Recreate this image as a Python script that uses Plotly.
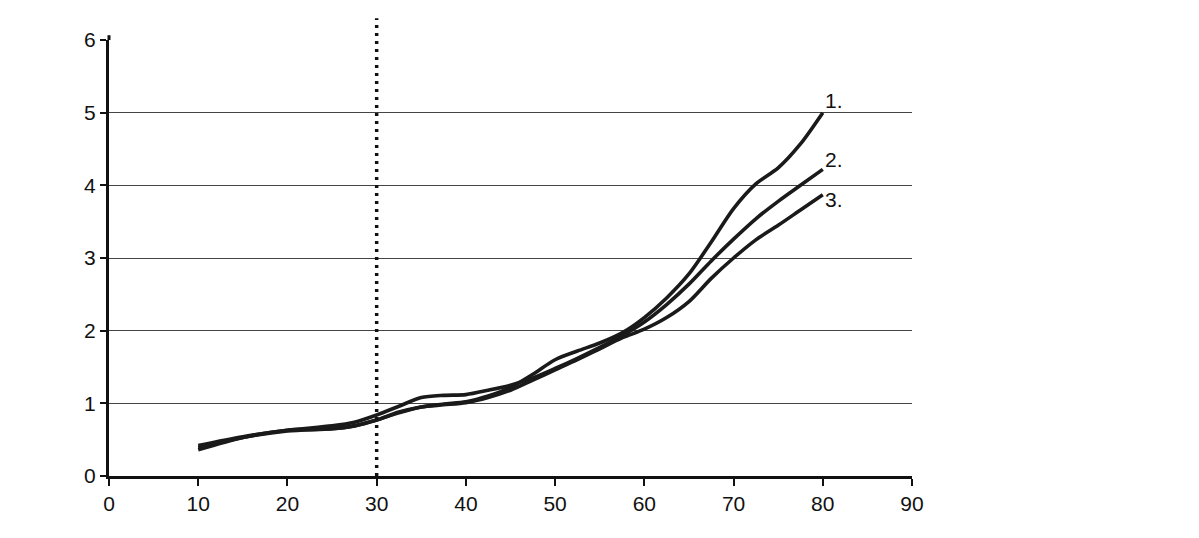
import plotly.graph_objects as go

x_vals = [10, 15, 20, 25, 27.5, 30, 32.5, 35, 37.5, 40, 42.5, 45, 47.5, 50, 52.5, 55, 57.5, 60, 62.5, 65, 67.5, 70, 72.5, 75, 77.5, 80]
series_1 = [0.36, 0.53, 0.63, 0.65, 0.69, 0.77, 0.88, 0.95, 0.99, 1.02, 1.10, 1.22, 1.40, 1.60, 1.72, 1.83, 1.97, 2.18, 2.45, 2.78, 3.22, 3.68, 4.02, 4.24, 4.57, 5.00]
series_2 = [0.42, 0.54, 0.63, 0.69, 0.74, 0.84, 0.96, 1.08, 1.11, 1.12, 1.18, 1.25, 1.35, 1.48, 1.62, 1.77, 1.93, 2.12, 2.36, 2.64, 2.96, 3.26, 3.54, 3.78, 4.00, 4.22]
series_3 = [0.39, 0.53, 0.62, 0.65, 0.69, 0.77, 0.87, 0.95, 0.98, 1.01, 1.08, 1.18, 1.32, 1.46, 1.60, 1.75, 1.90, 2.02, 2.18, 2.40, 2.72, 3.00, 3.25, 3.45, 3.66, 3.87]
series_labels = ["1.", "2.", "3."]
label_y = [5.17, 4.35, 3.80]
marker_x = 30
x_ticks = [0, 10, 20, 30, 40, 50, 60, 70, 80, 90]
y_ticks = [0, 1, 2, 3, 4, 5, 6]

fig = go.Figure()
for ys in (series_1, series_2, series_3):
    fig.add_trace(go.Scatter(x=x_vals, y=ys, mode="lines",
                             line=dict(color="#1a1a1a", width=3.6, shape="spline", smoothing=0.8),
                             showlegend=False, hoverinfo="skip"))

for lab, ly in zip(series_labels, label_y):
    fig.add_annotation(x=x_vals[-1], y=ly, text=lab, showarrow=False,
                       xanchor="left", yanchor="middle", xshift=0,
                       font=dict(family="Liberation Sans, Arial", size=21, color="#111"))

fig.add_shape(type="line", xref="x", yref="paper", x0=marker_x, x1=marker_x, y0=0, y1=1.05,
              line=dict(color="#111", width=3.5, dash="3px,5px"), layer="above")
# small extension of the y-axis line above the top tick
fig.add_shape(type="line", xref="paper", yref="paper", x0=0, x1=0, y0=1, y1=1.011,
              line=dict(color="#111", width=3), layer="above")

font = dict(family="Liberation Sans, Arial", size=21, color="#111")
fig.update_layout(
    width=1199, height=538,
    margin=dict(l=109, r=287, t=40, b=62),
    paper_bgcolor="white", plot_bgcolor="white",
    font=font,
    xaxis=dict(range=[0, 90], tickvals=x_ticks, showgrid=False, zeroline=False,
               showline=True, linecolor="#111", linewidth=3,
               ticks="outside", ticklen=7, tickwidth=2, tickcolor="#111",
               tickfont=font),
    yaxis=dict(range=[0, 6], tickvals=y_ticks, showgrid=True, gridcolor="#444", gridwidth=1,
               zeroline=False, showline=True, linecolor="#111", linewidth=3,
               ticks="outside", ticklen=6, tickwidth=2, tickcolor="#111",
               tickfont=font),
)

fig.write_html("out.html")
